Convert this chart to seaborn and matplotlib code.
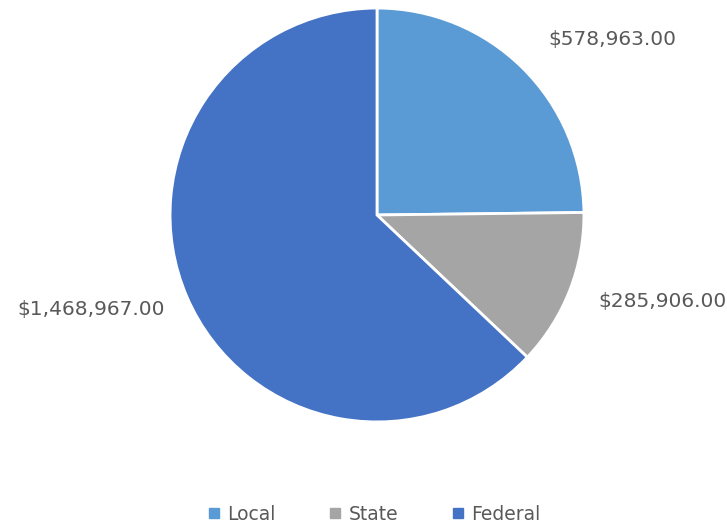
"""
Funding by source, pie chart.
"""
import matplotlib
matplotlib.use('Agg')
import matplotlib.pyplot as plt
import seaborn as sns

sources = ['Local', 'State', 'Federal']
amounts = [578963.00, 285906.00, 1468967.00]
colors = ['#5B9BD5', '#A5A5A5', '#4472C4']

# label anchor points in figure pixels (x, y from top)
label_pos = [(548, 40, 'left'), (598, 302, 'left'), (165, 310, 'right')]

sns.set_theme(style='white')
plt.rcParams['font.family'] = ['DejaVu Sans']

W, H = 727, 527
fig = plt.figure(figsize=(W / 100, H / 100), dpi=100)
cx, cy, r = 377, 215, 209
ax = fig.add_axes([(cx - r) / W, (H - cy - r) / H, 2 * r / W, 2 * r / H])

wedges, _ = ax.pie(amounts, colors=colors, startangle=90, counterclock=False,
                   radius=1, wedgeprops={'edgecolor': 'white', 'linewidth': 2})
ax.set_xlim(-1.01, 1.01)
ax.set_ylim(-1.01, 1.01)
ax.set_aspect('equal')
ax.axis('off')

for amt, (x, y, ha) in zip(amounts, label_pos):
    fig.text(x / W, 1 - y / H, f'${amt:,.2f}', ha=ha, va='center',
             fontsize=14.5, color='#595959')

handles = [plt.Line2D([], [], marker='s', linestyle='', markersize=6.5,
                      markerfacecolor=c, markeredgecolor=c) for c in colors]
fig.legend(handles, sources, loc='center', bbox_to_anchor=(0.511, 1 - 514 / H),
           ncol=3, frameon=False, fontsize=13.5, handletextpad=0.1,
           columnspacing=2.6, handlelength=1.2, labelcolor='#595959')

fig.savefig('out.png', dpi=100)
